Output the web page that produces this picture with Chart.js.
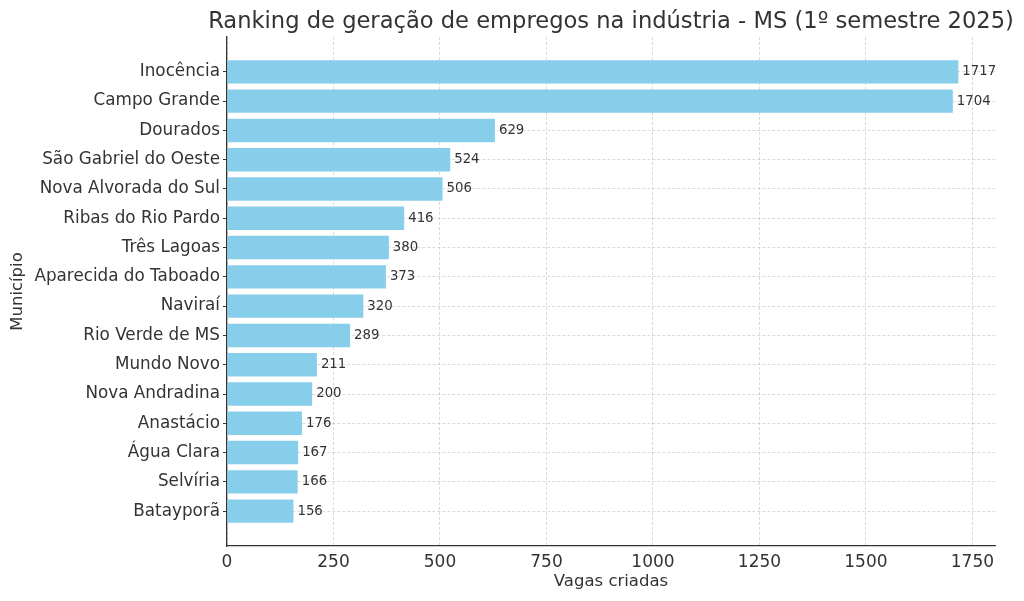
<!DOCTYPE html>
<html lang="pt">
<head>
    <meta charset="UTF-8">
    <title>Ranking de geração de empregos</title>
    <script src="https://cdn.jsdelivr.net/npm/chart.js"></script>
    <style>
        body {
            margin: 0;
            background: #fff;
        }
        .chart-container {
            width: 1024px;
            height: 601px;
        }
    </style>
</head>
<body>
<div class="chart-container">
    <canvas id="rankingChart"></canvas>
</div>

<script>
    const chartTitle = 'Ranking de geração de empregos na indústria - MS (1º semestre 2025)';
    const municipios = [
        'Inocência', 'Campo Grande', 'Dourados', 'São Gabriel do Oeste',
        'Nova Alvorada do Sul', 'Ribas do Rio Pardo', 'Três Lagoas',
        'Aparecida do Taboado', 'Naviraí', 'Rio Verde de MS', 'Mundo Novo',
        'Nova Andradina', 'Anastácio', 'Água Clara', 'Selvíria', 'Batayporã'
    ];
    const vagas = [1717, 1704, 629, 524, 506, 416, 380, 373, 320, 289, 211, 200, 176, 167, 166, 156];
    const xTicks = [0, 250, 500, 750, 1000, 1250, 1500, 1750];

    const textColor = '#333333';
    const font = "'DejaVu Sans', sans-serif";

    // value labels at the end of each bar
    const valueLabels = {
        id: 'valueLabels',
        afterDatasetsDraw(chart) {
            const ctx = chart.ctx;
            const meta = chart.getDatasetMeta(0);
            ctx.save();
            ctx.font = '13.3px ' + font;
            ctx.fillStyle = textColor;
            ctx.textAlign = 'left';
            ctx.textBaseline = 'middle';
            meta.data.forEach((bar, i) => {
                ctx.fillText(String(vagas[i]), bar.x + 4, bar.y);
            });
            ctx.restore();
        }
    };

    // title centred over the plot area (the built-in one squeezes the text)
    const plotTitle = {
        id: 'plotTitle',
        afterDraw(chart) {
            const ctx = chart.ctx;
            const area = chart.chartArea;
            ctx.save();
            ctx.font = '22.6px ' + font;
            ctx.fillStyle = textColor;
            ctx.textAlign = 'center';
            ctx.textBaseline = 'alphabetic';
            ctx.fillText(chartTitle, (area.left + area.right) / 2, 28);
            ctx.restore();
        }
    };

    const gridStyle = {
        color: 'rgba(170, 170, 170, 0.55)',
        lineWidth: 0.8,
        offset: false,
        tickColor: textColor,
        tickBorderDash: [],
        tickLength: 4,
        tickWidth: 1
    };
    const borderStyle = {display: true, color: textColor, width: 1.3, dash: [3, 2]};

    const ctx = document.getElementById('rankingChart').getContext('2d');
    new Chart(ctx, {
        type: 'bar',
        data: {
            datasets: [{
                data: vagas.map((v, i) => ({x: v, y: i})),
                backgroundColor: '#87CEEB',
                borderWidth: 0,
                barPercentage: 0.8,
                categoryPercentage: 1.0
            }]
        },
        options: {
            indexAxis: 'y',
            responsive: true,
            maintainAspectRatio: false,
            animation: false,
            layout: {
                padding: {left: 0, right: 29, top: 37, bottom: 0}
            },
            plugins: {
                legend: {display: false},
                tooltip: {enabled: false},
                title: {display: false}
            },
            scales: {
                x: {
                    type: 'linear',
                    min: 0,
                    max: 1803,
                    z: 1,
                    afterBuildTicks(axis) {
                        axis.ticks = xTicks.map(v => ({value: v}));
                    },
                    afterFit(axis) {
                        axis.height = 55;
                    },
                    grid: Object.assign({}, gridStyle, {tickColor: 'rgba(0,0,0,0)'}),
                    border: borderStyle,
                    ticks: {
                        color: textColor,
                        font: {family: font, size: 17},
                        padding: 2,
                        maxRotation: 0,
                        callback: (value) => String(value)
                    },
                    title: {
                        display: true,
                        text: 'Vagas criadas',
                        color: textColor,
                        font: {family: font, size: 16.5},
                        padding: {top: 0, bottom: 9}
                    }
                },
                y: {
                    type: 'linear',
                    reverse: true,
                    offset: false,
                    min: -1.19,
                    max: 16.19,
                    z: 1,
                    afterBuildTicks(axis) {
                        axis.ticks = municipios.map((m, i) => ({value: i}));
                    },
                    afterFit(axis) {
                        axis.width = 227;
                    },
                    grid: gridStyle,
                    border: borderStyle,
                    ticks: {
                        color: textColor,
                        font: {family: font, size: 16.8},
                        padding: 3,
                        autoSkip: false,
                        callback: (value) => municipios[value] || ''
                    },
                    title: {
                        display: true,
                        text: 'Município',
                        color: textColor,
                        font: {family: font, size: 16.5},
                        padding: {top: 8, bottom: 0}
                    }
                }
            }
        },
        plugins: [valueLabels, plotTitle]
    });
</script>
</body>
</html>
